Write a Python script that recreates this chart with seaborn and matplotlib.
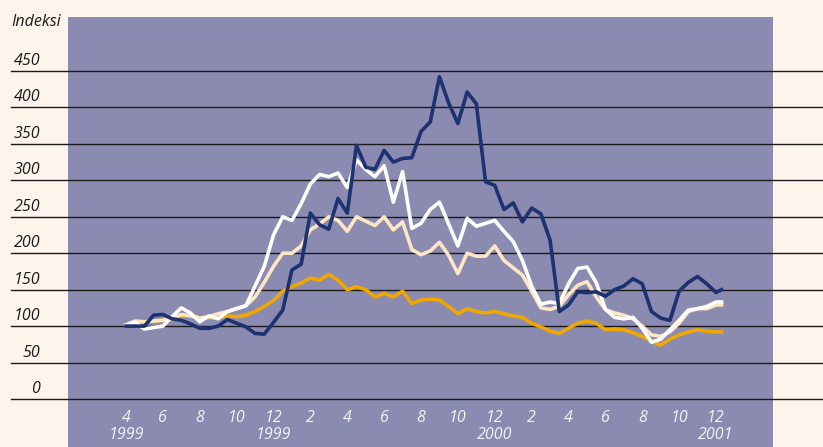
import numpy as np
import pandas as pd
import seaborn as sns
import matplotlib.pyplot as plt
from matplotlib.transforms import ScaledTranslation

# x = months from April 1999, sampled every half month
kuukausi = list(np.arange(0, 32.5, 0.5)) + [32.3]

sarja_tummansininen = [100, 100, 100, 115, 116, 110, 108, 103, 97, 97,
                       100, 109, 104, 99, 90, 89, 105, 122, 177, 185,
                       255, 239, 233, 275, 255, 348, 318, 315, 341, 325,
                       330, 331, 367, 380, 442, 406, 378, 421, 405, 298,
                       293, 260, 269, 243, 262, 254, 218, 120, 129, 147,
                       146, 147, 141, 150, 155, 165, 158, 120, 111, 108,
                       148, 160, 168, 158, 146, 150]
sarja_valkoinen = [101, 105, 96, 98, 100, 113, 125, 118, 106, 114,
                   110, 120, 124, 128, 155, 182, 225, 250, 245, 268,
                   295, 308, 305, 310, 290, 328, 315, 305, 320, 270,
                   312, 234, 241, 260, 270, 240, 210, 248, 237, 241,
                   245, 230, 216, 190, 155, 130, 133, 131, 158, 179,
                   181, 160, 123, 112, 110, 112, 97, 78, 82, 95,
                   108, 122, 124, 127, 133, 133]
sarja_kerma = [102, 107, 106, 107, 108, 111, 116, 114, 111, 113,
               117, 120, 124, 128, 140, 160, 182, 200, 200, 210,
               232, 240, 250, 245, 230, 250, 244, 238, 250, 232,
               243, 205, 198, 203, 215, 197, 172, 200, 196, 196,
               210, 190, 180, 170, 148, 125, 123, 127, 143, 156,
               161, 140, 123, 118, 115, 110, 100, 88, 86, 92,
               104, 120, 124, 124, 129, 129]
sarja_oranssi = [101, 104, 106, 107, 108, 109, 113, 116, 111, 111,
                 112, 114, 113, 115, 120, 127, 135, 148, 154, 159,
                 166, 163, 171, 163, 150, 154, 150, 140, 145, 140,
                 148, 131, 136, 137, 136, 127, 117, 124, 120, 118,
                 120, 117, 114, 112, 104, 99, 93, 90, 97, 104,
                 107, 104, 95, 96, 95, 91, 86, 79, 74, 82,
                 88, 92, 95, 93, 92, 92]

x_ticks = list(range(0, 33, 2))
x_labels = ['4\n1999', '6', '8', '10', '12\n1999', '2', '4', '6', '8', '10',
            '12\n2000', '2', '4', '6', '8', '10', '12\n2001']
y_ticks = [0, 50, 100, 150, 200, 250, 300, 350, 400, 450]

df = pd.DataFrame({
    'kk': kuukausi * 4,
    'arvo': sarja_oranssi + sarja_kerma + sarja_valkoinen + sarja_tummansininen,
    'sarja': (['oranssi'] * len(kuukausi) + ['kerma'] * len(kuukausi)
              + ['valkoinen'] * len(kuukausi) + ['tummansininen'] * len(kuukausi)),
})

varit = {'oranssi': '#f0a800', 'kerma': '#fde6c4',
         'valkoinen': '#ffffff', 'tummansininen': '#1e3170'}

plt.rcParams['font.family'] = 'Open Sans'
fig = plt.figure(figsize=(8.23, 4.47), dpi=100, facecolor='#fdf5eb')
ax = fig.add_axes([68 / 823, 0, 705 / 823, 430 / 447])
ax.set_facecolor('#8b8ab1')

sns.lineplot(data=df, x='kk', y='arvo', hue='sarja', palette=varit,
             hue_order=['oranssi', 'kerma', 'valkoinen', 'tummansininen'],
             linewidth=2.6, legend=False, ax=ax, zorder=3)

ax.set_xlim(-3.145, 35.09)
ax.set_ylim(-65.8, 524)

# gridlines run over the whole width of the page
for y in y_ticks:
    ax.axhline(y, xmin=-0.081, xmax=1.08, color='#1a1a1a', lw=1.0,
               clip_on=False, zorder=2)

for s in ax.spines.values():
    s.set_visible(False)

ax.set_xticks(x_ticks, x_labels)
ax.tick_params(axis='x', length=0, pad=-27, labelsize=11.5,
               labelcolor='#f4f2f8')
for lab in ax.get_xticklabels():
    lab.set_fontstyle('italic')
    lab.set_linespacing(1.1)

ax.set_yticks(y_ticks, [str(v) for v in y_ticks])
ax.tick_params(axis='y', length=0, pad=20, labelsize=11.5, labelcolor='#1a1a1a')
nosto = ScaledTranslation(0, 12 / 100, fig.dpi_scale_trans)
for lab in ax.get_yticklabels():
    lab.set_fontstyle('italic')
    lab.set_transform(lab.get_transform() + nosto)

ax.set_xlabel('')
ax.set_ylabel('')
fig.text(11 / 823, 1 - 22 / 447, 'Indeksi', fontsize=11.5, style='italic',
         color='#1a1a1a', ha='left', va='center')

fig.savefig('out.png', dpi=100, facecolor=fig.get_facecolor())
